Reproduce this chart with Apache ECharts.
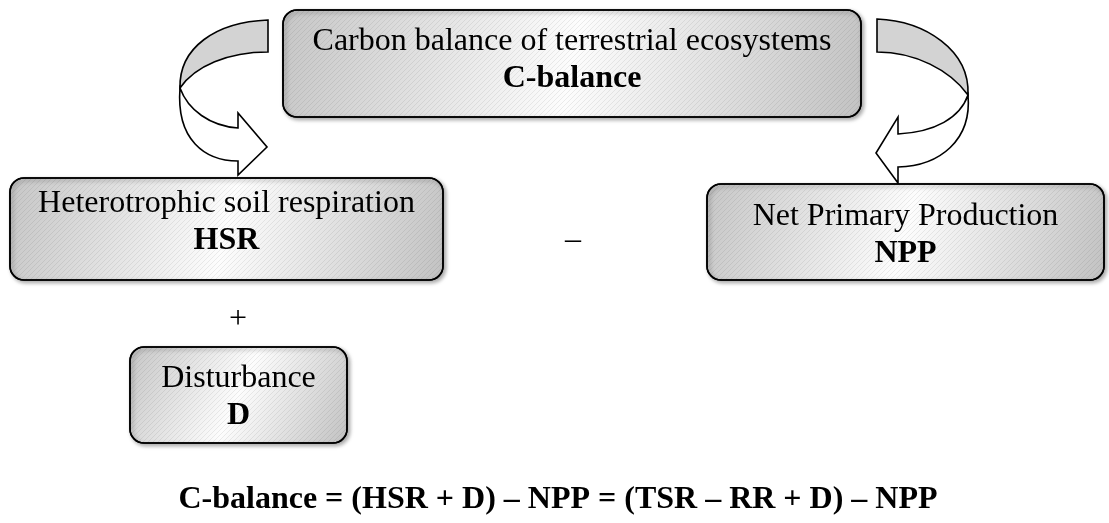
<!DOCTYPE html>
<html lang="en">
<head>
    <meta charset="UTF-8">
    <title>Carbon balance of terrestrial ecosystems</title>
    <script src="https://cdn.jsdelivr.net/npm/echarts@6/dist/echarts.min.js"></script>
    <style>
        html, body { margin: 0; padding: 0; background: #fff; }
    </style>
</head>
<body>
    <div id="main" style="width: 1109px;height:523px;"></div>
    <script type="text/javascript">
        // texts of the boxes
        var boxNames = ['Carbon balance of terrestrial ecosystems', 'Heterotrophic soil respiration', 'Net Primary Production', 'Disturbance'];
        var boxCodes = ['C-balance', 'HSR', 'NPP', 'D'];
        var signs = ['–', '+'];
        var formula = 'C-balance = (HSR + D) – NPP = (TSR – RR + D) – NPP';

        // layout (pixels): [left, top, right, bottom], baseline of first line
        var boxRects = [[283, 10, 861, 117], [10, 178, 443, 280], [707, 184, 1104, 280], [130, 347, 347, 443]];
        var nameBaselines = [53, 215, 228, 390];
        var signPos = [[573, 245], [238, 323]];

        // curved arrows: grey back face + white front face with head
        var arrowPaths = [
            ['M268,20 C215,22 179,48 180,88 C195,66 228,52 268,52 Z',
             'M180,88 C176,140 205,161 238,161 L238,175 L267,147 L238,113 L238,128 C210,126 188,110 180,88 Z'],
            ['M877,19 C925,21 970,50 968,95 C950,70 915,52 877,52 Z',
             'M968,95 C972,140 940,166 898,167 L898,183 L876,153 L898,117 L898,134 C935,132 960,118 968,95 Z']
        ];

        var serif = '"Liberation Serif", "Times New Roman", serif';
        var myChart = echarts.init(document.getElementById('main'));

        // fine diagonal hatching like the original box texture
        var hatch = document.createElement('canvas');
        hatch.width = 5;
        hatch.height = 5;
        var hctx = hatch.getContext('2d');
        hctx.strokeStyle = 'rgba(0,0,0,0.07)';
        hctx.lineWidth = 1;
        hctx.beginPath();
        hctx.moveTo(0, 5);
        hctx.lineTo(5, 0);
        hctx.stroke();

        function boxFill() {
            return new echarts.graphic.LinearGradient(0, 0, 1, 1, [
                { offset: 0, color: '#c6c6c6' },
                { offset: 0.5, color: '#fdfdfd' },
                { offset: 1, color: '#c2c2c2' }
            ]);
        }

        function textStyle(txt, x, y, font) {
            return {
                text: txt, x: x, y: y, fill: '#000', font: font,
                align: 'center', verticalAlign: 'middle',
                textAlign: 'center', textVerticalAlign: 'middle'
            };
        }

        myChart.setOption({
            animation: false,
            grid: { left: 0, right: 0, top: 0, bottom: 0 },
            xAxis: { type: 'value', min: 0, max: 1109, show: false },
            yAxis: { type: 'value', min: 0, max: 523, inverse: true, show: false },
            series: [{
                // arrows
                type: 'custom',
                data: arrowPaths.map(function (p, i) { return [0, 0, i]; }),
                renderItem: function (params, api) {
                    var p = arrowPaths[api.value(2)];
                    return {
                        type: 'group',
                        children: [
                            { type: 'path', shape: { pathData: p[0] }, style: { fill: '#d3d3d3', stroke: '#000', lineWidth: 1.6 } },
                            { type: 'path', shape: { pathData: p[1] }, style: { fill: '#fff', stroke: '#000', lineWidth: 1.6 } }
                        ]
                    };
                }
            }, {
                // boxes
                type: 'custom',
                data: boxRects.map(function (r, i) { return [r[0], r[1], r[2], r[3], i]; }),
                renderItem: function (params, api) {
                    var p0 = api.coord([api.value(0), api.value(1)]);
                    var p1 = api.coord([api.value(2), api.value(3)]);
                    var i = api.value(4);
                    var cx = (p0[0] + p1[0]) / 2;
                    var base = api.coord([0, nameBaselines[i]])[1];
                    var shape = { x: p0[0], y: p0[1], width: p1[0] - p0[0], height: p1[1] - p0[1], r: 14 };
                    return {
                        type: 'group',
                        children: [{
                            type: 'rect',
                            shape: shape,
                            style: {
                                fill: boxFill(), stroke: '#000', lineWidth: 1.6,
                                shadowBlur: 4, shadowOffsetX: 2, shadowOffsetY: 2, shadowColor: 'rgba(0,0,0,0.35)'
                            }
                        }, {
                            type: 'rect',
                            shape: shape,
                            style: { fill: { image: hatch, repeat: 'repeat' }, stroke: '#000', lineWidth: 1.6 }
                        }, {
                            type: 'text',
                            style: textStyle(boxNames[i], cx, base - 11, '32px ' + serif)
                        }, {
                            type: 'text',
                            style: textStyle(boxCodes[i], cx, base + 37 - 11, 'bold 32px ' + serif)
                        }]
                    };
                }
            }],
            graphic: [{
                type: 'text', x: signPos[0][0], y: signPos[0][1] - 4,
                style: textStyle(signs[0], 0, 0, '32px ' + serif)
            }, {
                type: 'text', x: signPos[1][0], y: signPos[1][1] - 3,
                style: textStyle(signs[1], 0, 0, '32px ' + serif)
            }, {
                type: 'text', x: 558, y: 500,
                style: textStyle(formula, 0, 0, 'bold 32px ' + serif)
            }]
        });
    </script>
</body>
</html>
